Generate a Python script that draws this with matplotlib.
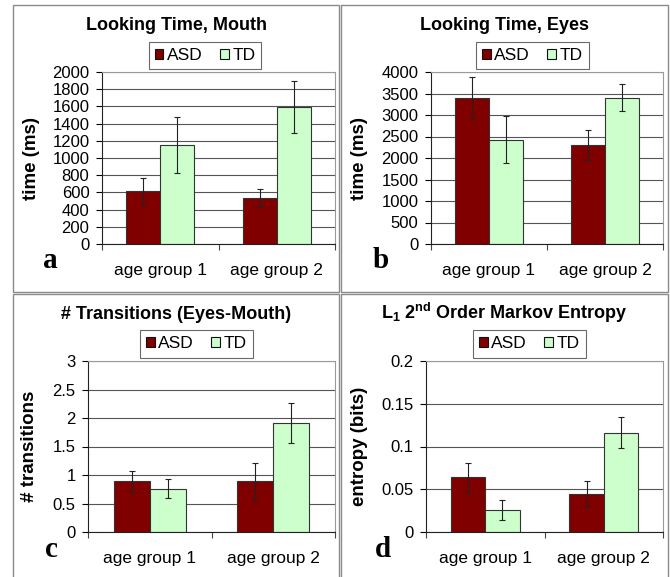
import matplotlib
matplotlib.use("Agg")
import matplotlib.pyplot as plt
import numpy as np
from matplotlib.patches import Rectangle
from matplotlib.ticker import FuncFormatter


GROUPS = ["age group 1", "age group 2"]
SERIES = ["ASD", "TD"]

mouth_asd = [615, 540]
mouth_asd_err = [150, 105]
mouth_td = [1150, 1590]
mouth_td_err = [330, 300]

eyes_asd = [3400, 2295]
eyes_asd_err = [475, 350]
eyes_td = [2430, 3400]
eyes_td_err = [540, 310]

trans_asd = [0.89, 0.89]
trans_asd_err = [0.18, 0.32]
trans_td = [0.76, 1.91]
trans_td_err = [0.17, 0.35]

entropy_asd = [0.064, 0.045]
entropy_asd_err = [0.017, 0.015]
entropy_td = [0.026, 0.116]
entropy_td_err = [0.012, 0.018]

W, H = 670, 577
ASD_COLOR = "#800000"
TD_COLOR = "#CCFFCC"

plt.rcParams["font.family"] = ["Liberation Sans", "DejaVu Sans"]
plt.rcParams["mathtext.fontset"] = "custom"
plt.rcParams["mathtext.rm"] = "Liberation Sans:bold"
plt.rcParams["mathtext.it"] = "Liberation Sans:bold"
plt.rcParams["mathtext.bf"] = "Liberation Sans:bold"


def fx(x):
    return x / W


def fy(y):
    return 1 - y / H


def px_axes(fig, left, top, right, bottom):
    return fig.add_axes([fx(left), fy(bottom), (right - left) / W, (bottom - top) / H])


def draw_panel(fig, box, axbox, title, ylabel, ylabel_x, letter, letter_xy,
               legend_box, asd, asd_err, td, td_err, ymax, ystep):
    # panel frame
    x0, y0, x1, y1 = box
    fig.patches.append(Rectangle((fx(x0), fy(y1)), (x1 - x0) / W, (y1 - y0) / H,
                                 transform=fig.transFigure, fill=False,
                                 edgecolor="#8a8a8a", linewidth=1.0))
    fig.text(fx((x0 + x1) / 2), fy(y0 + 25), title, ha="center", va="baseline",
             fontsize=13, fontweight="bold")

    ax = px_axes(fig, *axbox)
    x = np.arange(len(GROUPS))
    width = 0.29
    ax.bar(x - width / 2, asd, width, color=ASD_COLOR, edgecolor="#333333",
           linewidth=0.8, label=SERIES[0], zorder=2)
    ax.bar(x + width / 2, td, width, color=TD_COLOR, edgecolor="#333333",
           linewidth=0.8, label=SERIES[1], zorder=2)
    ax.errorbar(x - width / 2, asd, yerr=asd_err, fmt="none", ecolor="#222222",
                elinewidth=0.8, capsize=2, capthick=0.8, zorder=3)
    ax.errorbar(x + width / 2, td, yerr=td_err, fmt="none", ecolor="#222222",
                elinewidth=0.8, capsize=2, capthick=0.8, zorder=3)

    ax.set_xlim(-0.5, 1.5)
    ax.set_ylim(0, ymax)
    ax.set_yticks(np.arange(0, ymax + ystep / 2, ystep))
    ax.yaxis.set_major_formatter(FuncFormatter(lambda v, p: f"{v:g}"))
    ax.yaxis.grid(True, color="#555555", linewidth=0.8, zorder=0)
    ax.set_axisbelow(True)

    ax.set_xticks(x)
    ax.set_xticklabels(GROUPS, fontsize=12.5)
    ax.set_xticks([-0.5, 0.5, 1.5], minor=True)
    ax.tick_params(axis="x", which="major", length=0, pad=14)
    ax.tick_params(axis="x", which="minor", length=4, width=0.8, color="#444444")
    ax.tick_params(axis="y", length=4, width=0.8, labelsize=12, pad=5)

    ax.spines["top"].set_color("#9a9a9a")
    ax.spines["right"].set_color("#9a9a9a")
    ax.spines["left"].set_color("#222222")
    ax.spines["bottom"].set_color("#222222")
    for s in ax.spines.values():
        s.set_linewidth(0.8)

    fig.text(fx(ylabel_x), fy((axbox[1] + axbox[3]) / 2), ylabel, rotation=90,
             ha="center", va="center", fontsize=13.5, fontweight="bold")
    fig.text(fx(letter_xy[0]), fy(letter_xy[1]), letter, ha="left", va="baseline",
             fontsize=21, fontweight="bold", family="Liberation Serif")

    lx0, ly0, lx1, ly1 = legend_box
    leg = ax.legend(loc="center", bbox_to_anchor=(fx((lx0 + lx1) / 2), fy((ly0 + ly1) / 2)),
                    bbox_transform=fig.transFigure, ncol=2, fontsize=12.5,
                    frameon=True, fancybox=False, edgecolor="#444444",
                    handlelength=0.5, handleheight=0.5, handletextpad=0.2,
                    columnspacing=1.0, borderpad=0.35, borderaxespad=0)
    leg.get_frame().set_linewidth(0.8)
    for h in leg.legend_handles:
        h.set_edgecolor("#111111")
    return ax


fig = plt.figure(figsize=(W / 100, H / 100), dpi=100)

draw_panel(fig, (13, 5, 339, 292), (102, 72, 335, 244), "Looking Time, Mouth",
           "time (ms)", 32, "a", (43, 268), (148, 41, 262, 70),
           mouth_asd, mouth_asd_err, mouth_td, mouth_td_err, 2000, 200)
draw_panel(fig, (341, 5, 668, 292), (431, 72, 663, 244), "Looking Time, Eyes",
           "time (ms)", 360, "b", (373, 268), (475, 41, 590, 70),
           eyes_asd, eyes_asd_err, eyes_td, eyes_td_err, 4000, 500)
draw_panel(fig, (13, 294, 339, 580), (88, 361, 335, 532), "# Transitions (Eyes-Mouth)",
           "# transitions", 30, "c", (45, 557), (139, 329, 254, 359),
           trans_asd, trans_asd_err, trans_td, trans_td_err, 3, 0.5)
draw_panel(fig, (341, 294, 668, 580), (426, 361, 663, 532),
           r"L$_{1}$ 2$^{\mathrm{nd}}$ Order Markov Entropy",
           "entropy (bits)", 360, "d", (375, 557), (472, 329, 587, 359),
           entropy_asd, entropy_asd_err, entropy_td, entropy_td_err, 0.2, 0.05)

fig.savefig("out.png", dpi=100)
